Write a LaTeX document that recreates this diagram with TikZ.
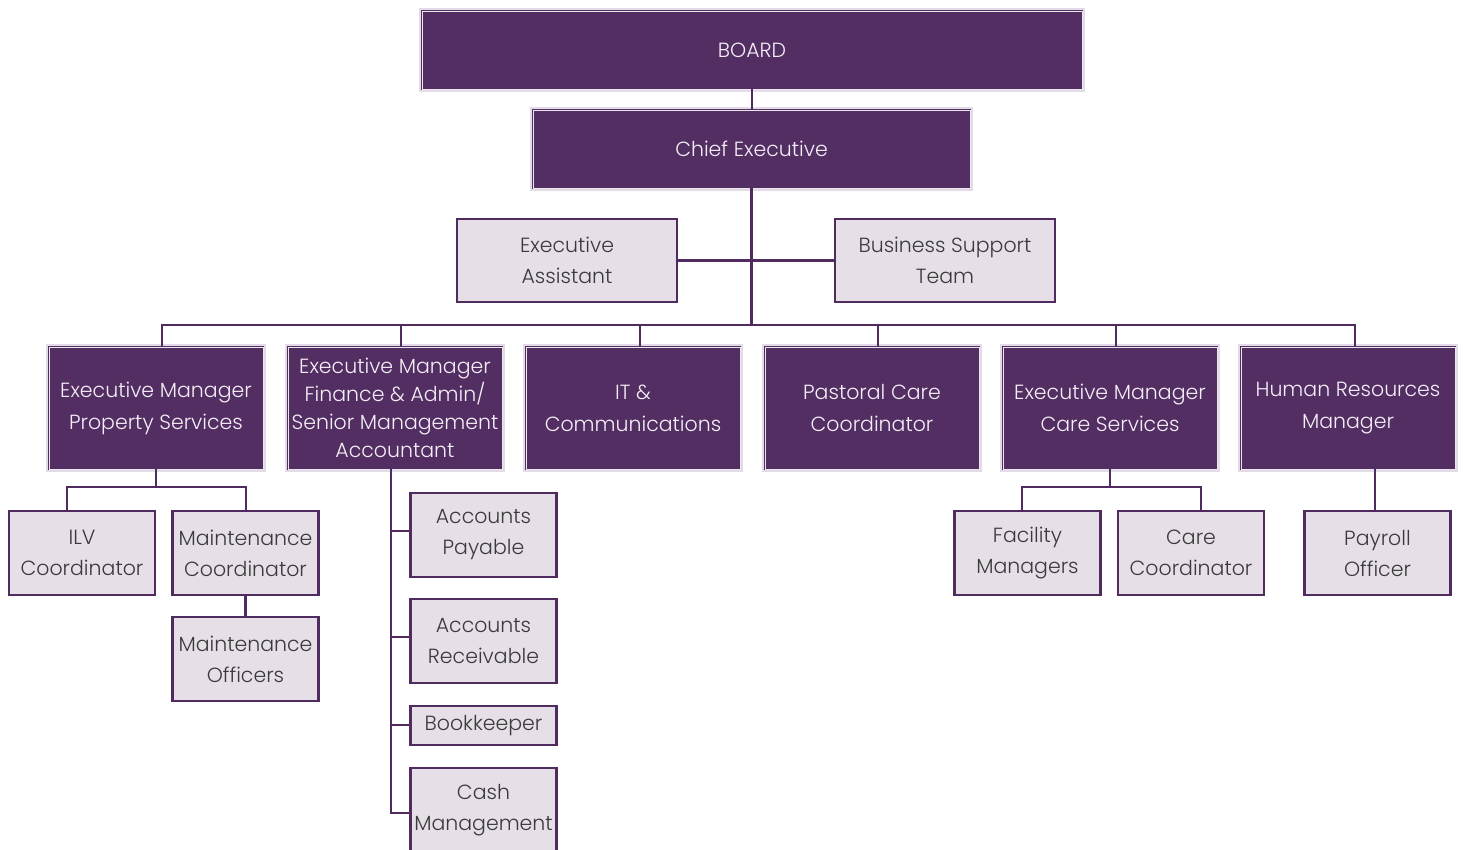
\documentclass[tikz,border=0pt]{standalone}
\usepackage{fontspec}
\setmainfont{Poppins Light}
\definecolor{dk}{HTML}{532E63}
\definecolor{lav}{HTML}{E4DBE8}
\definecolor{lt}{HTML}{E6DFE8}
\definecolor{ln}{HTML}{4F2B5F}
\definecolor{txd}{HTML}{F4EEF6}
\definecolor{txl}{HTML}{3A3A3A}
\tikzset{
  darkbox/.style={rectangle, inner sep=0pt, fill=dk, draw=dk, line width=0.9pt,
    double=white!88!dk, double distance=0.9pt,
    preaction={draw=lav, line width=6pt},
    text=txd, align=center, font=\fontsize{20.5}{32}\selectfont},
  lightbox/.style={rectangle, inner sep=0pt, fill=lt, draw=ln, line width=2.6pt,
    text=txl, align=center, font=\fontsize{20.5}{31}\selectfont},
  conn/.style={draw=ln, line width=2.6pt}
}
\begin{document}
\begin{tikzpicture}[x=1pt,y=-1pt]
\useasboundingbox (0,0) rectangle (1466,850);
\clip (0,0) rectangle (1466,850);
% connectors
\coordinate (bus) at (752,325);
\coordinate (b1) at (162,325);
\coordinate (b2) at (401,325);
\coordinate (b3) at (640,325);
\coordinate (b4) at (878,325);
\coordinate (b5) at (1116,325);
\coordinate (b6) at (1355,325);
% top
\node[darkbox, minimum width=660, minimum height=78] (board) at (752,50) {BOARD};
\node[darkbox, minimum width=437, minimum height=78] (chief) at (751.5,149) {Chief Executive};
\node[lightbox, minimum width=220, minimum height=83] (ea) at (567,260.5) {Executive\\Assistant};
\node[lightbox, minimum width=220, minimum height=83] (bst) at (945,260.5) {Business Support\\Team};
% level 2
\node[darkbox, minimum width=214, minimum height=122] (p1) at (156,408) {Executive Manager\\Property Services};
\node[darkbox, minimum width=214, minimum height=122, font=\fontsize{20.5}{28}\selectfont] (p2) at (395,408) {Executive Manager\\Finance \& Admin/\\Senior Management\\Accountant};
\node[darkbox, minimum width=214, minimum height=122] (p3) at (633,408) {IT \&\\Communications};
\node[darkbox, minimum width=214, minimum height=122] (p4) at (872,408) {Pastoral Care\\Coordinator};
\node[darkbox, minimum width=214, minimum height=122] (p5) at (1110,408) {Executive Manager\\Care Services};
\node[darkbox, minimum width=214, minimum height=122] (p6) at (1348,408) {Human Resources\\Manager};
% level 3
\node[lightbox, minimum width=146, minimum height=84] (ilv) at (82,553) {ILV\\Coordinator};
\node[lightbox, minimum width=146, minimum height=84] (mc) at (245.5,553) {Maintenance\\Coordinator};
\node[lightbox, minimum width=146, minimum height=84] (mo) at (245.5,659) {Maintenance\\Officers};
\node[lightbox, minimum width=146, minimum height=84] (ap) at (483.5,535) {Accounts\\Payable};
\node[lightbox, minimum width=146, minimum height=84] (ar) at (483.5,641) {Accounts\\Receivable};
\node[lightbox, minimum width=146, minimum height=39] (bk) at (483.5,725.5) {Bookkeeper};
\node[lightbox, minimum width=146, minimum height=85] (cm) at (483.5,810.5) {Cash\\Management};
\node[lightbox, minimum width=146, minimum height=84] (fm) at (1027.5,553) {Facility\\Managers};
\node[lightbox, minimum width=146, minimum height=84] (cc) at (1191,553) {Care\\Coordinator};
\node[lightbox, minimum width=146, minimum height=84] (po) at (1377.5,553) {Payroll\\Officer};
\draw[conn] (board.south) -- (board.south |- chief.north);
\draw[conn] (chief.south) -- (chief.south |- bus);
\draw[conn] (ea.east) -- (bst.west);
\draw[conn, line cap=rect] (b1) -- (b6);
\draw[conn] (b1) -- (b1 |- p1.north);
\draw[conn] (b2) -- (b2 |- p2.north);
\draw[conn] (b3) -- (b3 |- p3.north);
\draw[conn] (b4) -- (b4 |- p4.north);
\draw[conn] (b5) -- (b5 |- p5.north);
\draw[conn] (b6) -- (b6 |- p6.north);
% property
\coordinate (pj) at (156,487);
\coordinate (pjL) at (67,487);
\coordinate (pjR) at (246,487);
\draw[conn] (p1.south) -- (pj);
\draw[conn, line join=miter] (pjL |- ilv.north) -- (pjL) -- (pjR) -- (pjR |- mc.north);
\draw[conn] (mc.south) -- (mo.north);
% finance
\coordinate (ft) at (391,813);
\draw[conn, line join=miter] (ft |- p2.south) -- (ft) -- (ft -| cm.west);
\coordinate (fa) at (391,531);
\coordinate (fr) at (391,637);
\coordinate (fb) at (391,725);
\draw[conn] (fa) -- (fa -| ap.west);
\draw[conn] (fr) -- (fr -| ar.west);
\draw[conn] (fb) -- (fb -| bk.west);
% care
\coordinate (cj) at (1110,487);
\coordinate (cjL) at (1022,487);
\coordinate (cjR) at (1201,487);
\draw[conn] (p5.south) -- (cj);
\draw[conn, line join=miter] (cjL |- fm.north) -- (cjL) -- (cjR) -- (cjR |- cc.north);
% hr
\coordinate (hj) at (1375,470);
\draw[conn] (hj |- p6.south) -- (hj |- po.north);
\end{tikzpicture}
\end{document}
